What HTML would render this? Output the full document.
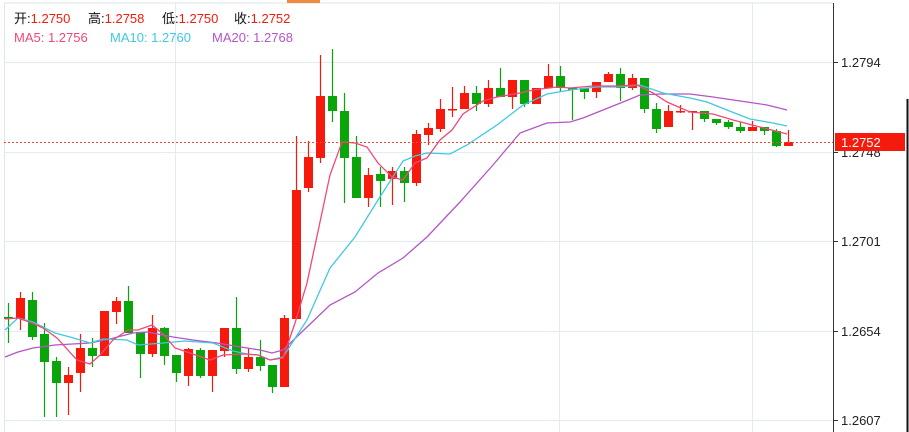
<!DOCTYPE html>
<html><head><meta charset="utf-8"><style>
body{margin:0;background:#fff;width:909px;height:432px;overflow:hidden;font-family:"Liberation Sans","Noto Sans CJK SC",sans-serif}
svg{position:absolute;left:0;top:0}
</style></head><body>
<svg id="s" width="909" height="432" xmlns="http://www.w3.org/2000/svg">
<rect x="0" y="0" width="909" height="432" fill="#fff"/>
<line x1="4" y1="3" x2="833" y2="3" stroke="#dde6ee"/>
<line x1="4.5" y1="3" x2="4.5" y2="432" stroke="#dde6ee"/>
<rect x="287" y="0" width="33" height="3" fill="#f08a3c"/>
<g stroke="#e2ebf2" stroke-width="1">
<line x1="4" y1="62.5" x2="833" y2="62.5"/>
<line x1="4" y1="152.5" x2="833" y2="152.5"/>
<line x1="4" y1="241.5" x2="833" y2="241.5"/>
<line x1="4" y1="331.5" x2="833" y2="331.5"/>
<line x1="4" y1="420.5" x2="833" y2="420.5"/>
<line x1="175.5" y1="3" x2="175.5" y2="432"/>
<line x1="559.5" y1="3" x2="559.5" y2="432"/>
<line x1="752.5" y1="3" x2="752.5" y2="432"/>
</g>
<g id="c"></g>
<polyline fill="none" stroke="#b455c8" stroke-width="1.3" points="5,357 18,352 33,348 55,345 90,343 110,339 133,333 147,332 173,337 193,340 217,343 247,348 260,350 272,353 283,350 307,327 330,305 355,292 378,273 403,258 427,237 460,202 493,165 520,133 547,123 570,122 583,118 603,110 623,102 640,95 660,94 690,94 713,97 747,102 767,105 787,110"/>
<polyline fill="none" stroke="#40c8e0" stroke-width="1.3" points="5,330 18,318 33,322 55,333 70,337 90,343 103,339 127,340 138,345 163,343 185,341 213,343 233,351 247,354 258,355 270,360 283,357 307,320 330,268 355,237 378,200 403,161 415,156 427,153 450,154 467,145 497,125 523,105 547,94 570,90 597,87 617,87 640,85 663,93 690,98 707,102 727,110 750,119 773,123 787,126"/>
<polyline fill="none" stroke="#f0487a" stroke-width="1.3" points="5,319 18,318 32,323 43,328 57,338 77,360 90,364 100,355 113,340 128,330 138,330 152,325 163,334 175,348 187,352 210,360 223,355 245,354 258,355 270,360 283,358 295,323 307,283 330,175 342,142 355,143 367,147 378,163 392,177 403,180 415,163 427,158 440,140 452,130 463,114 483,101 497,97 520,93 533,90 557,87 570,88 593,86 617,86 637,85 653,93 667,102 690,112 713,114 733,120 760,127 787,134"/>
<line x1="4" y1="142.5" x2="833" y2="142.5" stroke="#f0443a" stroke-dasharray="2,2"/>
<line x1="833.5" y1="3" x2="833.5" y2="432" stroke="#333"/>
<g stroke="#333"><line x1="833" y1="62.5" x2="838" y2="62.5"/><line x1="833" y1="152.5" x2="838" y2="152.5"/><line x1="833" y1="241.5" x2="838" y2="241.5"/><line x1="833" y1="331.5" x2="838" y2="331.5"/><line x1="833" y1="420.5" x2="838" y2="420.5"/></g>
<g font-size="13" fill="#222" font-family="Liberation Sans,sans-serif">
<text x="841" y="67">1.2794</text>
<text x="841" y="157">1.2748</text>
<text x="841" y="246">1.2701</text>
<text x="841" y="336">1.2654</text>
<text x="841" y="425">1.2607</text>
</g>
<rect x="835" y="133" width="70" height="18" fill="#f51a0b"/>
<text x="841" y="147" font-size="13" fill="#fff" font-family="Liberation Sans,sans-serif">1.2752</text>
<line x1="907.5" y1="99" x2="907.5" y2="432" stroke="#111" stroke-width="2"/>
<g font-size="13" font-family="Liberation Sans,'Noto Sans CJK SC',sans-serif">
<text x="14" y="23" fill="#111">开:<tspan fill="#f51a0b">1.2750</tspan></text>
<text x="88" y="23" fill="#111">高:<tspan fill="#f51a0b">1.2758</tspan></text>
<text x="162" y="23" fill="#111">低:<tspan fill="#f51a0b">1.2750</tspan></text>
<text x="234" y="23" fill="#111">收:<tspan fill="#f51a0b">1.2752</tspan></text>
<text x="14" y="42" fill="#f0487a">MA5: 1.2756</text>
<text x="110" y="42" fill="#40c8e0">MA10: 1.2760</text>
<text x="212" y="42" fill="#b455c8">MA20: 1.2768</text>
</g>
</svg>
<script>
// [bodyTop, bodyBot, wickTop, wickBot, up]
var d=[[317,319,303,343,0],[298,319,292,330,1],[300,337,292,340,0],[334,362,323,417,0],[361,383,357,417,0],[375,383,367,415,1],[348,373,334,392,1],[348,356,338,367,0],[311,356,311,356,1],[301,312,297,324,1],[301,333,286,333,0],[332,354,332,378,0],[328,354,315,357,1],[328,356,327,365,0],[355,373,355,382,0],[349,376,348,386,1],[350,376,348,378,0],[350,376,350,392,1],[328,351,328,357,1],[328,369,297,374,0],[357,369,348,372,1],[357,366,340,371,0],[365,387,365,393,0],[318,387,315,387,1],[190,319,136,319,1],[157,188,141,192,1],[96,158,55,163,1],[96,111,49,122,0],[111,158,93,203,0],[157,198,136,198,0],[175,198,168,207,1],[174,181,167,207,0],[171,179,167,205,1],[171,183,167,202,0],[134,183,130,186,1],[128,135,123,145,1],[109,129,99,132,1],[109,110,87,117,1],[93,109,86,109,1],[93,104,86,111,0],[88,104,80,107,1],[88,97,68,97,0],[80,97,80,109,1],[80,104,80,107,0],[88,104,88,104,1],[76,88,64,88,1],[76,88,66,92,0],[88,90,88,120,0],[88,92,88,99,0],[82,92,82,98,1],[74,82,72,82,1],[74,88,68,101,0],[78,88,74,90,1],[78,109,78,113,0],[109,129,103,133,0],[111,127,105,127,1],[111,112,105,113,1],[111,112,117,130,1],[111,119,111,122,0],[119,123,119,125,0],[122,127,120,129,0],[127,131,122,133,0],[127,131,121,131,1],[127,131,127,135,0],[131,146,129,147,0],[142,146,130,146,1]];
var g=document.getElementById('c'),h='';
d.forEach(function(c,i){var x=8+12*i;if(i>=24)x+=0.5*0;var col=c[4]?'#f51a0b':'#0aa50a';
h+='<line x1="'+(x+0.5)+'" y1="'+Math.min(c[2],c[0])+'" x2="'+(x+0.5)+'" y2="'+Math.max(c[3],c[1])+'" stroke="'+col+'" stroke-width="1.2"/>';
h+='<rect x="'+(x-4)+'" y="'+c[0]+'" width="9" height="'+Math.max(1.5,c[1]-c[0])+'" fill="'+col+'"/>';});
g.innerHTML=h;
</script>
</body></html>
